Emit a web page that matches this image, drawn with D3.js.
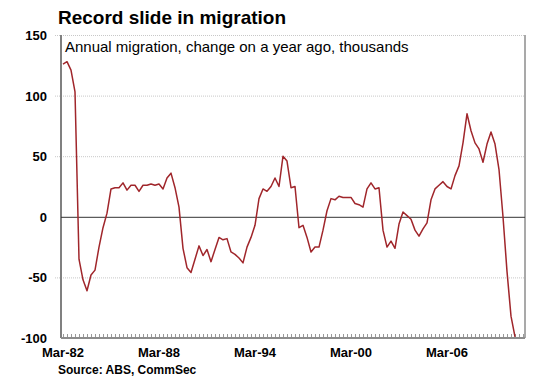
<!DOCTYPE html>
<html>
<head>
<meta charset="utf-8">
<script src="https://cdn.jsdelivr.net/npm/d3@7"></script>
<style>
  body { margin: 0; background: #fff; }
  svg { display: block; font-family: "Liberation Sans", Arial, sans-serif; }
</style>
</head>
<body>
<svg id="chart" width="556" height="387"></svg>
<script>
// quarterly, starting March 1982
const firstYear = 1982
const xLabels = ["Mar-82", "Mar-88", "Mar-94", "Mar-00", "Mar-06"]
const yTicks = [-100, -50, 0, 50, 100, 150]

// annual migration, change on a year ago, thousands
const migration = [
  126, 128, 121, 103, -35, -52, -61, -48, -44, -25, -9, 3,
  23, 24, 24, 28, 22, 26, 26, 21, 26, 26, 27, 26,
  27, 23, 32, 36, 24, 8, -26, -42, -46, -35, -24, -32,
  -27, -37, -27, -17, -19, -18, -29, -31, -34, -38, -25, -17,
  -7, 15, 23, 21, 25, 32, 25, 50, 46, 24, 25, -9,
  -7, -17, -29, -25, -25, -11, 5, 15, 14, 17, 16, 16,
  16, 11, 10, 8, 23, 28, 23, 24, -11, -25, -20, -26,
  -6, 4, 1, -2, -11, -16, -10, -5, 14, 23, 26, 29,
  25, 23, 34, 42, 61, 85, 71, 61, 56, 45, 60, 70,
  60, 39, 0, -45, -82, -99
]

const quarters = migration.map((v, i) => {
  const yr = (firstYear + Math.floor(i / 4)) % 100
  return ["Mar", "Jun", "Sep", "Dec"][i % 4] + "-" + String(yr).padStart(2, "0")
})
const nCats = 116

const svg = d3.select("#chart")
const plotLeft = 61, plotRight = 525, plotTop = 35, plotBottom = 338

var x = d3.scaleLinear().domain([-0.5, nCats - 0.5]).range([plotLeft, plotRight])
var y = d3.scaleLinear().domain([-100, 150]).range([plotBottom, plotTop])

// title
svg.append("text")
  .attr("x", 58).attr("y", 24)
  .style("font-size", "19px").style("font-weight", "bold")
  .attr("fill", "#000")
  .text("Record slide in migration")

// gridlines
svg.append("g").selectAll("line")
  .data(yTicks.filter(d => d !== 0 && d !== -100))
  .enter().append("line")
  .attr("x1", plotLeft - 6).attr("x2", plotRight)
  .attr("y1", d => y(d) + 0.5).attr("y2", d => y(d) + 0.5)
  .attr("stroke", "#c8c8c8")
  .attr("stroke-dasharray", "1,1")

svg.append("text")
  .attr("x", 65).attr("y", 52)
  .style("font-size", "15px")
  .attr("fill", "#000")
  .text("Annual migration, change on a year ago, thousands")

// frame
svg.append("line")
  .attr("x1", plotLeft).attr("x2", plotLeft).attr("y1", plotTop).attr("y2", plotBottom)
  .attr("stroke", "#808080").attr("stroke-width", 2)
svg.append("line")
  .attr("x1", plotRight).attr("x2", plotRight).attr("y1", plotTop).attr("y2", plotBottom)
  .attr("stroke", "#8c8c8c").attr("stroke-width", 1.5)
svg.append("line")
  .attr("x1", plotLeft).attr("x2", plotRight).attr("y1", plotBottom).attr("y2", plotBottom)
  .attr("stroke", "#8c8c8c").attr("stroke-width", 2)

// zero line
svg.append("line")
  .attr("x1", plotLeft).attr("x2", plotRight)
  .attr("y1", y(0) + 0.5).attr("y2", y(0) + 0.5)
  .attr("stroke", "#333").attr("stroke-width", 1)

// quarter ticks along the bottom
svg.append("g").selectAll("line")
  .data(d3.range(nCats))
  .enter().append("line")
  .attr("x1", d => x(d) + 0.5).attr("x2", d => x(d) + 0.5)
  .attr("y1", plotBottom - 1).attr("y2", plotBottom - 4)
  .attr("stroke", "#9a9a9a").attr("stroke-width", 1)

// y labels
svg.append("g").selectAll("text")
  .data(yTicks)
  .enter().append("text")
  .attr("x", 47).attr("y", d => y(d) + 5)
  .attr("text-anchor", "end")
  .style("font-size", "13px").style("font-weight", "bold")
  .text(d => d)

// x labels
svg.append("g").selectAll("text")
  .data(xLabels)
  .enter().append("text")
  .attr("x", d => x(quarters.indexOf(d)))
  .attr("y", 357)
  .attr("text-anchor", "middle")
  .style("font-size", "13px").style("font-weight", "bold")
  .text(d => d)

// the line
var line = d3.line()
  .x((d, i) => x(i))
  .y(d => y(d))

svg.append("path")
  .datum(migration)
  .attr("d", line)
  .attr("fill", "none")
  .attr("stroke", "#a0262b")
  .attr("stroke-width", 1.5)
  .attr("stroke-linejoin", "round")

svg.append("text")
  .attr("x", 58).attr("y", 374)
  .style("font-size", "12px").style("font-weight", "bold")
  .text("Source: ABS, CommSec")
</script>
</body>
</html>
